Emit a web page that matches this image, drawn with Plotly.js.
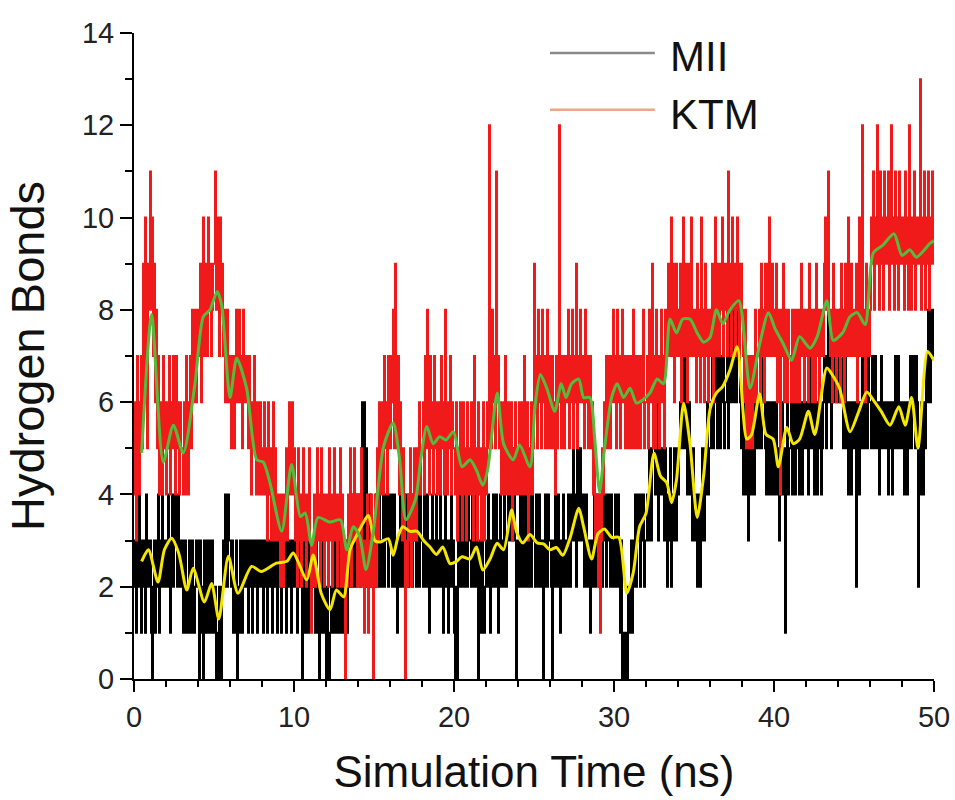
<!DOCTYPE html>
<html>
<head>
<meta charset="utf-8">
<script src="https://cdn.plot.ly/plotly-3.0.1.min.js"></script>
<style>html,body{margin:0;padding:0;background:#fff}#chart{width:955px;height:800px}</style>
</head>
<body>
<div id="chart"></div>
<script>
// Sampling: one value every 0.0625 ns from 0 to 50 ns (16 values per ns, one row of the listing per ns)
const t0 = 0, dt = 0.0625;
const mii = [
2,3,1,3,2,4,3,1,3,2,3,1,4,2,3,2,
3,1,0,2,3,1,3,2,4,1,3,2,4,3,2,3,
3,2,4,3,1,3,4,2,3,4,3,2,4,3,2,3,
3,1,2,3,1,2,1,3,2,1,3,2,1,2,3,2,
3,0,3,1,2,0,3,1,2,3,1,3,2,1,3,2,
1,2,0,1,0,2,1,0,2,3,2,4,3,2,4,3,
3,2,3,1,2,1,3,0,2,1,3,2,1,3,2,3,
2,3,1,3,2,3,1,2,3,2,3,1,3,2,3,2,
3,1,3,2,3,1,2,3,2,3,1,3,2,3,2,1,
3,2,3,1,3,2,3,2,1,3,3,2,3,1,3,2,
3,2,3,1,3,2,3,2,0,1,3,1,2,3,1,2,
3,2,3,2,3,1,3,2,1,0,2,1,3,1,2,1,
0,2,1,0,1,2,1,2,1,3,2,1,2,1,3,2,
1,2,1,2,3,1,2,3,2,4,3,2,4,3,2,4,
3,4,2,5,6,3,6,2,5,3,2,3,4,2,3,2,
3,2,4,3,2,4,3,2,3,4,2,3,4,3,2,4,
3,4,2,3,4,2,3,1,3,2,4,3,2,4,3,4,
4,3,2,4,3,4,2,3,4,3,2,4,3,2,4,3,
3,2,4,3,2,4,3,1,3,2,4,3,2,3,4,2,
3,2,4,2,3,1,3,4,2,3,1,3,2,4,2,3,
1,0,2,0,3,2,4,3,2,3,2,4,3,2,4,3,
3,2,4,3,2,3,4,2,0,3,2,1,3,2,1,2,
3,2,4,3,1,3,2,4,3,2,4,3,1,3,4,2,
3,2,4,3,2,3,4,3,5,4,3,5,4,3,0,3,
3,2,4,3,2,4,3,2,4,3,2,3,4,2,4,3,
3,2,4,3,2,4,3,2,3,0,2,4,3,2,4,3,
3,2,0,3,2,4,3,2,4,3,1,3,2,4,3,2,
3,2,4,3,2,4,3,5,3,4,2,5,4,3,5,4,
3,4,2,3,4,2,3,2,1,3,2,3,4,2,3,4,
3,2,4,3,2,4,3,4,2,3,4,3,2,4,3,2,
3,4,2,3,4,2,1,3,0,1,0,0,1,0,2,1,
2,3,1,3,2,4,2,3,4,3,2,4,3,4,2,3,
3,4,3,5,4,3,5,6,5,4,6,5,3,5,4,5,
5,4,3,5,4,2,4,3,5,2,4,3,5,4,3,5,
4,5,6,7,5,6,7,5,6,4,5,6,4,5,3,5,
4,3,4,2,3,4,2,3,5,4,3,5,4,6,4,5,
5,6,7,5,6,7,6,5,7,6,5,7,6,7,5,6,
6,7,5,8,6,7,8,6,7,8,6,7,8,7,6,5,
6,4,5,6,4,5,3,5,6,4,5,6,4,5,6,5,
5,6,7,5,6,7,6,5,4,6,5,4,6,5,4,6,
5,4,6,5,4,3,5,4,6,5,4,1,5,6,4,5,
5,6,4,5,6,4,5,6,5,4,6,5,4,6,5,6,
5,6,4,6,5,7,6,5,4,6,5,4,6,5,6,4,
5,6,7,6,5,7,8,6,7,5,6,7,8,6,7,6,
7,6,8,6,7,5,6,7,5,6,4,5,6,4,5,6,
5,6,2,5,6,4,6,5,7,6,5,7,6,5,7,6,
6,5,7,6,5,7,6,5,6,4,5,7,6,5,6,5,
6,5,4,6,5,6,4,5,6,7,5,6,7,5,6,5,
5,6,4,5,6,4,5,6,7,5,6,7,6,5,7,6,
2,5,4,6,5,4,6,5,7,6,8,7,6,8,7,8,
7];
const ktm = [
4,6,3,7,5,4,6,7,5,9,6,10,7,5,9,8,
11,8,10,7,9,6,8,5,7,4,6,5,4,7,5,6,
4,6,5,7,4,6,5,7,6,4,7,5,6,4,6,5,
5,4,6,4,7,5,4,6,7,5,8,6,7,8,6,7,
8,7,9,6,8,10,7,9,8,7,10,8,9,7,8,9,
9,11,8,10,9,7,10,8,9,7,8,6,7,8,6,7,
6,5,7,6,5,7,8,6,7,8,6,7,5,8,6,7,
7,6,5,7,6,4,6,5,7,5,4,6,4,5,6,4,
5,4,6,4,5,3,6,4,5,3,4,6,3,5,4,3,
4,3,2,4,3,2,4,3,5,3,4,6,4,5,6,4,
5,3,4,2,5,3,4,2,3,5,3,4,2,4,3,5,
3,1,3,2,4,2,3,5,3,4,2,5,3,4,2,4,
3,4,2,5,3,4,2,3,5,3,4,2,4,3,5,2,
4,2,3,0,3,2,4,3,5,2,4,3,5,3,4,2,
3,4,2,5,3,2,1,3,2,4,1,3,2,4,3,0,
3,4,2,5,3,6,4,5,6,4,7,5,6,4,7,5,
5,7,6,8,5,9,6,5,7,4,6,5,3,5,4,0,
3,2,4,3,5,2,4,3,5,4,3,5,4,6,4,5,
5,6,4,7,5,8,6,4,7,5,6,4,7,5,6,4,
5,6,4,7,5,6,4,8,5,4,6,5,7,4,6,5,
5,4,6,3,5,4,6,5,3,6,4,5,3,6,4,5,
4,6,5,3,7,4,5,3,6,4,5,3,4,6,3,5,
4,6,5,12,6,5,8,6,7,5,11,6,7,5,6,4,
5,6,4,7,5,4,6,5,4,6,3,5,4,6,5,4,
5,6,4,5,6,4,7,5,4,6,3,5,4,6,4,5,
9,6,7,5,8,6,7,5,8,6,7,5,6,8,5,7,
6,5,7,5,6,4,7,5,6,12,7,5,6,7,5,6,
7,6,8,5,7,6,8,5,7,6,9,5,7,6,8,6,
6,7,5,8,6,7,5,6,7,5,6,4,5,3,4,3,
2,4,1,3,5,4,6,5,7,5,6,7,5,7,6,8,
6,7,5,8,6,7,5,6,8,6,7,5,6,7,5,6,
7,5,6,8,5,7,6,5,7,6,5,7,6,8,5,6,
6,7,5,8,6,7,9,5,7,5,8,6,7,5,6,8,
6,7,5,8,7,8,9,7,8,10,7,9,6,8,9,7,
8,7,9,6,8,10,7,9,8,6,9,7,8,10,7,8,
7,8,6,9,7,8,6,10,7,8,6,9,7,8,6,7,
8,7,9,6,8,10,7,9,8,7,9,8,10,7,8,9,
8,7,11,8,9,7,10,8,9,7,8,10,9,7,8,9,
8,7,6,8,5,7,6,5,7,6,5,7,6,8,6,7,
7,8,6,9,7,8,6,9,8,7,9,10,7,8,9,7,
8,7,9,6,8,7,4,8,7,9,6,8,7,6,8,7,
7,6,8,7,6,8,6,7,8,6,7,9,7,8,6,8,
7,8,6,9,7,8,6,7,8,6,9,7,8,6,7,8,
8,7,9,10,8,9,11,8,7,8,6,9,7,8,6,8,
7,8,6,9,7,8,6,9,7,8,10,7,8,9,7,8,
8,7,9,6,8,10,7,8,12,7,8,6,9,7,8,7,
8,10,9,11,8,10,9,12,10,8,11,9,10,8,11,9,
10,9,11,8,10,12,9,10,8,11,9,10,8,11,9,10,
9,10,8,11,9,10,8,12,9,8,10,9,11,8,10,9,
10,9,13,8,10,9,11,8,10,9,11,8,10,9,11,9,
9];

// Running averages
const miiAvgT = [0.48,0.9,1.5,1.9,2.35,2.8,3.3,3.7,4.4,4.85,5.3,5.9,6.5,7.35,7.95,8.9,9.55,9.95,10.8,11.2,11.7,12.25,12.65,13.1,13.5,13.9,14.3,14.65,15.05,15.4,15.9,16.2,16.5,16.8,17.25,17.7,18.1,18.5,18.9,19.3,19.75,20.15,20.5,21.0,21.4,21.8,22.25,22.7,23.1,23.6,23.9,24.3,24.75,25.2,25.6,26.0,26.4,26.8,27.25,27.8,28.1,28.6,29.0,29.4,29.85,30.3,30.8,31.2,31.6,32.0,32.5,32.9,33.3,33.6,33.9,34.35,34.75,35.2,35.6,36.0,36.4,36.8,37.25,37.7,38.3,38.6,39.1,39.5,39.95,40.27,40.8,41.2,41.6,42.15,42.55,43.3,43.7,44.1,44.75,45.3,45.8,46.3,46.7,47.25,47.8,48.2,48.6,49.0,49.6,50.0];
const miiAvg  = [2.55,2.8,2.1,2.8,3.05,2.72,1.93,2.4,1.67,2.07,1.3,2.66,1.86,2.44,2.33,2.51,2.55,2.73,2.15,2.69,1.86,1.5,1.93,1.78,2.8,3.1,3.37,3.55,3.0,2.97,3.04,2.68,3.08,3.3,3.2,3.2,3.0,2.86,2.7,2.86,2.5,2.55,2.65,2.6,2.86,2.36,2.6,2.94,2.8,3.66,3.2,2.95,3.13,2.95,2.93,2.8,2.85,2.68,3.05,3.7,3.3,2.6,3.15,3.25,3.07,3.07,1.86,2.3,3.3,3.59,4.89,4.4,4.25,3.82,4.3,5.98,5.1,3.5,4.4,5.84,6.2,6.34,6.7,7.2,5.2,5.3,6.18,5.3,5.2,4.6,5.45,5.1,5.2,5.8,5.3,6.74,6.56,6.3,5.36,5.8,6.22,6.0,5.8,5.5,5.9,5.5,6.1,5.0,7.1,6.9];
const ktmAvgT = [0.48,1.1,1.83,2.46,3.08,3.81,4.33,4.75,5.2,5.48,6.0,6.42,7.04,7.67,8.08,8.5,9.23,9.85,10.4,10.7,11.1,11.5,12.25,12.9,13.3,13.7,14.1,14.5,14.96,15.6,16.2,16.6,17.0,17.6,17.9,18.3,18.7,19.1,19.5,19.96,20.5,21.0,21.4,21.8,22.1,22.7,23.1,23.7,24.1,24.75,25.06,25.4,25.8,26.3,26.7,27.0,27.35,27.8,28.1,28.5,28.8,29.1,29.4,29.85,30.2,30.6,31.0,31.4,31.8,32.25,32.7,33.1,33.5,33.9,34.3,34.75,35.2,35.6,36.0,36.4,36.8,37.25,37.8,38.5,39.1,39.65,40.06,40.6,41.1,41.6,42.25,42.7,43.3,43.7,44.3,44.75,45.2,45.7,46.2,46.8,47.5,48.0,48.5,48.9,49.75,50.0];
const ktmAvg  = [4.9,7.9,4.7,5.5,4.9,6.4,7.85,8.0,8.4,8.1,6.1,6.95,6.3,4.75,4.7,4.25,3.2,4.65,3.52,3.6,2.9,3.5,3.4,3.45,2.8,3.3,3.1,2.37,3.2,5.04,5.55,4.76,3.45,3.9,4.7,5.47,5.1,5.25,5.18,5.36,4.6,4.75,4.53,4.2,4.53,6.2,5.1,4.75,5.07,4.6,5.9,6.6,6.3,5.8,6.4,6.1,6.4,6.5,6.1,6.1,5.18,4.05,4.97,6.1,6.4,6.1,6.3,5.98,6.05,6.2,6.5,6.4,7.8,7.5,7.8,7.8,7.5,7.3,7.4,8.0,7.7,8.0,8.2,6.3,7.25,7.94,7.6,7.25,6.91,7.42,7.17,7.42,8.2,7.34,7.51,7.85,7.94,7.68,9.23,9.4,9.65,9.18,9.3,9.14,9.44,9.5];

const seriesNames = ['MII', 'KTM'];
const xTickVals = [0, 10, 20, 30, 40, 50];
const yTickVals = [0, 2, 4, 6, 8, 10, 12, 14];

const FONT = 'Liberation Sans, Arial, Helvetica, sans-serif';

const traces = [
  {type:'scatter', mode:'lines', name:seriesNames[0], x0:t0, dx:dt, y:mii,
   line:{color:'#000000', width:2, shape:'hv', simplify:false}, showlegend:false, hoverinfo:'skip'},
  {type:'scatter', mode:'lines', name:seriesNames[1], x0:t0, dx:dt, y:ktm,
   line:{color:'#f01a1a', width:2, shape:'hv', simplify:false}, showlegend:false, hoverinfo:'skip'},
  {type:'scatter', mode:'lines', name:seriesNames[0]+' avg', x:miiAvgT, y:miiAvg,
   line:{color:'#f4e600', width:3, shape:'spline', smoothing:0.7}, showlegend:false, hoverinfo:'skip'},
  {type:'scatter', mode:'lines', name:seriesNames[1]+' avg', x:ktmAvgT, y:ktmAvg,
   line:{color:'#55bb3c', width:3, shape:'spline', smoothing:0.7}, showlegend:false, hoverinfo:'skip'}
];

const layout = {
  width:955, height:800,
  margin:{l:134, r:21, t:33, b:121},
  paper_bgcolor:'#ffffff', plot_bgcolor:'#ffffff',
  font:{family:FONT, color:'#111111'},
  showlegend:false,
  xaxis:{
    range:[0,50], tickvals:xTickVals, ticktext:xTickVals.map(String),
    showgrid:false, zeroline:false, showline:true, linecolor:'#000', linewidth:2,
    ticks:'outside', ticklen:11, tickwidth:2, tickcolor:'#000',
    minor:{dtick:2, ticks:'outside', ticklen:6, tickwidth:2, tickcolor:'#000', showgrid:false},
    tickfont:{family:FONT, size:29, color:'#222'},
    title:{text:'Simulation Time (ns)', font:{family:FONT, size:44, color:'#111'}, standoff:24}
  },
  yaxis:{
    range:[0,14], tickvals:yTickVals, ticktext:yTickVals.map(String),
    showgrid:false, zeroline:false, showline:true, linecolor:'#000', linewidth:2,
    ticks:'outside', ticklen:12, tickwidth:2, tickcolor:'#000',
    minor:{dtick:1, ticks:'outside', ticklen:7, tickwidth:2, tickcolor:'#000', showgrid:false},
    tickfont:{family:FONT, size:29, color:'#222'},
    title:{text:'Hydrogen Bonds', font:{family:FONT, size:47, color:'#111'}, standoff:22}
  },
  shapes:[
    {type:'line', xref:'paper', yref:'paper', x0:0.52, x1:0.651, y0:0.969, y1:0.969, line:{color:'#8a8a8a', width:2.5}},
    {type:'line', xref:'paper', yref:'paper', x0:0.52, x1:0.651, y0:0.881, y1:0.881, line:{color:'#f2a486', width:2.5}}
  ],
  annotations:[
    {xref:'paper', yref:'paper', x:0.667, y:0.963, xanchor:'left', yanchor:'middle', showarrow:false,
     text:seriesNames[0], font:{family:FONT, size:42, color:'#111'}},
    {xref:'paper', yref:'paper', x:0.667, y:0.874, xanchor:'left', yanchor:'middle', showarrow:false,
     text:seriesNames[1], font:{family:FONT, size:42, color:'#111'}}
  ]
};

Plotly.newPlot('chart', traces, layout, {staticPlot:true, displayModeBar:false});
</script>
</body>
</html>
